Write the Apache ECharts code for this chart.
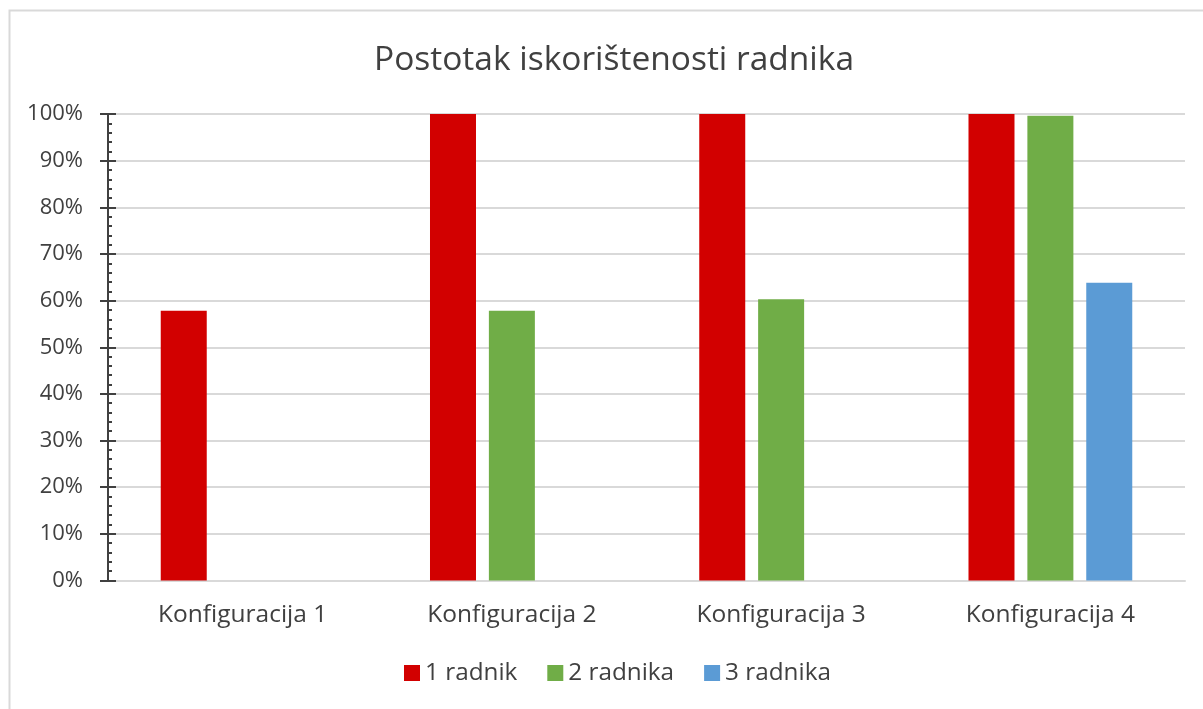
<!DOCTYPE html>
<html>
<head>
<meta charset="utf-8">
<script src="https://cdn.jsdelivr.net/npm/echarts@6/dist/echarts.min.js"></script>
<style>html,body{margin:0;padding:0;background:#fff}#c{width:1203px;height:709px}</style>
</head>
<body>
<div id="c"></div>
<script>
var titleText = 'Postotak iskorištenosti radnika';
var categories = ['Konfiguracija 1', 'Konfiguracija 2', 'Konfiguracija 3', 'Konfiguracija 4'];
var seriesNames = ['1 radnik', '2 radnika', '3 radnika'];
var radnik1 = [57.8, 100, 100, 100];
var radnika2 = [null, 57.8, 60.3, 99.6];
var radnika3 = [null, null, null, 63.8];
var colors = ['#d20000', '#70ad47', '#5b9bd5'];
var yMin = 0, yMax = 100, yInterval = 10;

var FONT = 'Open Sans';
var chart = echarts.init(document.getElementById('c'));
var yBase = {
  type: 'value', min: yMin, max: yMax, interval: yInterval, position: 'left'
};
chart.setOption({
  animation: false,
  color: colors,
  title: {
    text: titleText, left: 369, top: 38,
    textStyle: { fontFamily: FONT, fontSize: 33.5, fontWeight: 'normal', color: '#404040' }
  },
  legend: {
    data: seriesNames, bottom: 19, left: 399,
    itemWidth: 16, itemHeight: 16, itemGap: 30, icon: 'rect',
    textStyle: { fontFamily: FONT, fontSize: 24.3, color: '#404040' }
  },
  grid: { left: 108, right: 18, top: 114, bottom: 128.5, containLabel: false },
  xAxis: {
    type: 'category', data: categories,
    axisLine: { lineStyle: { color: '#d9d9d9', width: 2 } },
    axisTick: { show: false },
    axisLabel: { fontFamily: FONT, fontSize: 24.5, color: '#404040', margin: 22 }
  },
  yAxis: [
    Object.assign({}, yBase, {
      axisLine: { show: true, lineStyle: { color: '#404040', width: 2 } },
      axisTick: { show: true, inside: false, length: 8, lineStyle: { color: '#404040', width: 2 } },
      axisLabel: { fontFamily: FONT, fontSize: 22, color: '#404040', margin: 25, formatter: '{value}%' },
      splitLine: { show: true, lineStyle: { color: '#d9d9d9', width: 2 } }
    }),
    Object.assign({}, yBase, {
      axisLine: { show: true, lineStyle: { color: '#404040', width: 2 } },
      axisTick: { show: true, inside: true, length: 8, lineStyle: { color: '#404040', width: 2 } },
      minorTick: { show: true, splitNumber: 5, length: 4, lineStyle: { color: '#404040', width: 2 } },
      axisLabel: { show: false },
      splitLine: { show: false }
    })
  ],
  series: [
    { name: seriesNames[0], type: 'bar', data: radnik1, barWidth: 46, barGap: '28%' },
    { name: seriesNames[1], type: 'bar', data: radnika2, barWidth: 46, barGap: '28%' },
    { name: seriesNames[2], type: 'bar', data: radnika3, barWidth: 46, barGap: '28%' }
  ],
  graphic: [{
    type: 'rect', silent: true,
    shape: { x: 9.5, y: 10.5, width: 1400, height: 900 },
    style: { fill: 'none', stroke: '#d9d9d9', lineWidth: 2 }
  }]
});
</script>
</body>
</html>
